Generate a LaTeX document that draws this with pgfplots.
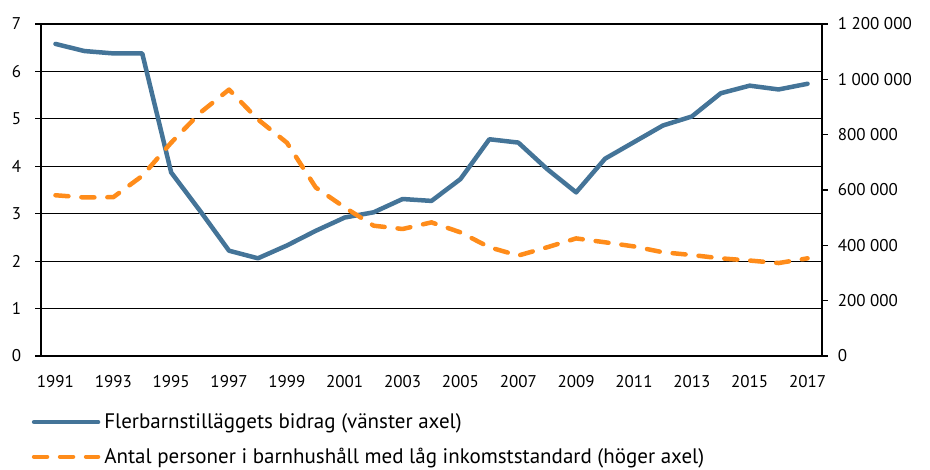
\documentclass[border=0pt]{standalone}
\usepackage{fontspec}
\setmainfont{PT Sans}
\usepackage{pgfplots}
\pgfplotsset{compat=1.18}
\definecolor{cblue}{RGB}{68,116,152}
\definecolor{corange}{RGB}{255,140,26}
\begin{document}
\fontsize{17}{20}\selectfont
\begin{tikzpicture}
\begin{axis}[
  width=781pt, height=332pt, scale only axis,
  xmin=1990.5, xmax=2017.5, ymin=0, ymax=7,
  axis x line*=bottom, axis y line*=left,
  xtick={1991,1993,...,2017},
  x tick label style={/pgf/number format/1000 sep={}, yshift=-8pt},
  ytick={0,...,7},
  yticklabel style={xshift=-8pt},
  ymajorgrids, grid style={black, line width=1.2pt},
  axis line style={black, line width=1.2pt, -},
  major tick length=6pt, tick align=outside,
  ytick style={black, line width=1.2pt},
  xtick style={draw=none},
  /pgf/number format/assume math mode=true,
  tick label style={font=\fontsize{17}{20}\selectfont},
  clip=false,
]
\addplot[cblue, line width=4.5pt, line join=round, line cap=round] coordinates {
(1991,6.58) (1992,6.43) (1993,6.38) (1994,6.38) (1995,3.87) (1996,3.06)
(1997,2.22) (1998,2.06) (1999,2.33) (2000,2.64) (2001,2.92) (2002,3.03)
(2003,3.31) (2004,3.27) (2005,3.73) (2006,4.57) (2007,4.50) (2008,3.94)
(2009,3.45) (2010,4.16) (2011,4.51) (2012,4.86) (2013,5.05) (2014,5.54)
(2015,5.70) (2016,5.62) (2017,5.74)
};
\end{axis}
\begin{axis}[
  width=781pt, height=332pt, scale only axis,
  xmin=1990.5, xmax=2017.5, ymin=0, ymax=1200000,
  axis y line*=right, axis x line=none,
  ytick={0,200000,400000,600000,800000,1000000,1200000},
  yticklabels={0,200 000,400 000,600 000,800 000,1 000 000,1 200 000},
  scaled y ticks=false,
  axis line style={black, line width=1.2pt, -},
  major tick length=6pt, tick align=outside,
  ytick style={black, line width=1.2pt},
  tick label style={font=\fontsize{17}{20}\selectfont},
  yticklabel style={anchor=west, xshift=4pt},
  clip=false,
  legend cell align=left,
  legend style={draw=none, fill=none, at={(-0.012,-0.16)}, anchor=north west,
    font=\fontsize{21}{24}\selectfont, row sep=9pt, inner sep=0pt,
    nodes={inner sep=4pt}},
  legend image code/.code={\draw[#1] (0pt,0pt) -- (64pt,0pt);},
]
\addlegendimage{cblue, line width=4.5pt, line cap=round}
\addlegendentry{Flerbarnstilläggets bidrag (vänster axel)}
\addplot[corange, line width=4.5pt, line join=round, line cap=round, dash pattern=on 13pt off 13pt] coordinates {
(1991,581000) (1992,573000) (1993,574000) (1994,651000) (1995,771000) (1996,879000)
(1997,963000) (1998,855000) (1999,771000) (2000,609000) (2001,537000) (2002,471000)
(2003,459000) (2004,483000) (2005,447000) (2006,393000) (2007,363000) (2008,393000)
(2009,425000) (2010,411000) (2011,396000) (2012,375000) (2013,365000) (2014,353000)
(2015,345000) (2016,336000) (2017,353000)
};
\addlegendentry{Antal personer i barnhushåll med låg inkomststandard (höger axel)}
\path (rel axis cs:0,0) -- ++(-41pt,-112pt);
\path (rel axis cs:1,1) -- ++(108pt,24pt);
\end{axis}
\end{tikzpicture}
\end{document}
